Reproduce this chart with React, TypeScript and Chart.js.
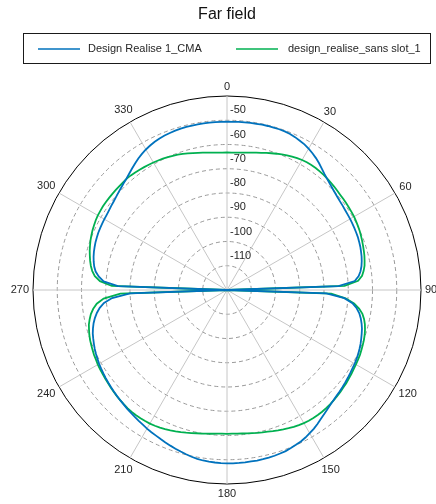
import React, { useEffect, useRef } from 'react';
import { Chart, registerables } from 'chart.js';

Chart.register(...registerables);

const FONT = '"Liberation Sans", Arial, Helvetica, sans-serif';

// Angular sampling grid (degrees, clockwise from top)
const angles: number[] = Array.from({ length: 180 }, (_, i) => i * 2);

const angleTickDegrees = [0, 30, 60, 90, 120, 150, 180, 210, 240, 270, 300, 330];
const angleTickLabels = ['0', '30', '60', '90', '120', '150', '180', '210', '240', '270', '300', '330'];

const radialTickValues = [-50, -60, -70, -80, -90, -100, -110];
const radialTickLabels = ['-50', '-60', '-70', '-80', '-90', '-100', '-110'];

const seriesNames = ['Design Realise 1_CMA', 'design_realise_sans slot_1'];
const seriesColors = ['#0072BD', '#00B050'];

const designRealiseCMA = [
  -50.6, -50.6, -50.5, -50.5, -50.4, -50.4, -50.3, -50.3, -50.3, -50.3,
  -50.4, -50.6, -51.0, -51.5, -52.0, -52.7, -53.5, -54.4, -55.4, -56.5,
  -57.5, -58.3, -59.0, -59.6, -60.1, -60.5, -60.8, -61.0, -61.2, -61.3,
  -61.4, -61.5, -61.6, -61.7, -61.8, -62.0, -62.2, -62.5, -62.8, -63.2,
  -63.7, -64.4, -65.4, -67.2, -74.0, -120, -79.0, -71.5, -68.0, -66.0,
  -64.6, -63.6, -62.8, -62.1, -61.6, -61.1, -60.6, -60.2, -59.8, -59.5,
  -59.2, -59.0, -58.7, -58.4, -58.1, -57.8, -57.5, -57.2, -56.8, -56.3,
  -55.7, -55.0, -54.2, -53.3, -52.5, -51.8, -51.1, -50.5, -50.1, -49.7,
  -49.3, -49.1, -48.9, -48.8, -48.7, -48.6, -48.6, -48.5, -48.5, -48.5,
  -48.5, -48.6, -48.7, -48.8, -49.0, -49.3, -49.7, -50.2, -50.7, -51.2,
  -51.7, -52.2, -52.7, -53.2, -53.6, -54.0, -54.5, -54.9, -55.3, -55.7,
  -56.0, -56.4, -56.7, -57.0, -57.3, -57.6, -57.9, -58.2, -58.5, -58.8,
  -59.1, -59.5, -59.9, -60.3, -60.8, -61.3, -61.8, -62.5, -63.3, -64.3,
  -65.5, -67.0, -69.0, -72.5, -80.0, -120, -75.0, -69.0, -66.8, -65.3,
  -64.4, -63.8, -63.3, -62.9, -62.6, -62.3, -62.1, -61.9, -61.8, -61.7,
  -61.6, -61.5, -61.3, -61.0, -60.7, -60.3, -59.8, -59.3, -58.7, -58.1,
  -57.3, -56.4, -55.5, -54.6, -53.8, -53.1, -52.5, -52.0, -51.6, -51.3,
  -51.1, -50.9, -50.8, -50.7, -50.7, -50.6, -50.6, -50.6, -50.6, -50.6,
];

const designRealiseSansSlot = [
  -63.3, -63.3, -63.2, -63.0, -62.8, -62.5, -62.1, -61.7, -61.2, -60.7,
  -60.2, -59.7, -59.2, -58.8, -58.4, -58.1, -57.9, -57.8, -57.8, -57.9,
  -58.0, -58.2, -58.4, -58.6, -58.8, -59.0, -59.1, -59.2, -59.3, -59.4,
  -59.5, -59.7, -59.9, -60.1, -60.4, -60.7, -61.0, -61.3, -61.6, -62.0,
  -62.4, -63.1, -64.0, -65.8, -71.5, -120, -77.0, -71.0, -67.3, -65.0,
  -63.3, -62.2, -61.4, -60.8, -60.3, -59.9, -59.6, -59.3, -59.0, -58.8,
  -58.6, -58.4, -58.1, -57.9, -57.6, -57.4, -57.1, -56.9, -56.7, -56.5,
  -56.4, -56.3, -56.3, -56.3, -56.4, -56.6, -56.9, -57.2, -57.6, -58.0,
  -58.4, -58.8, -59.2, -59.5, -59.8, -60.1, -60.3, -60.5, -60.6, -60.7,
  -60.7, -60.7, -60.6, -60.4, -60.2, -59.9, -59.6, -59.2, -58.8, -58.4,
  -58.0, -57.6, -57.2, -56.9, -56.6, -56.4, -56.3, -56.2, -56.2, -56.2,
  -56.3, -56.5, -56.7, -56.9, -57.2, -57.4, -57.7, -57.9, -58.1, -58.3,
  -58.5, -58.8, -59.0, -59.3, -59.6, -59.9, -60.3, -60.8, -61.3, -62.1,
  -63.0, -64.3, -66.0, -69.0, -76.0, -120, -72.5, -67.5, -65.2, -63.9,
  -63.0, -62.3, -61.7, -61.1, -60.6, -60.1, -59.7, -59.3, -59.0, -58.7,
  -58.5, -58.4, -58.3, -58.3, -58.3, -58.3, -58.3, -58.3, -58.3, -58.2,
  -58.3, -58.5, -58.7, -58.9, -59.1, -59.3, -59.5, -59.7, -60.0, -60.3,
  -60.6, -61.0, -61.4, -61.8, -62.2, -62.5, -62.8, -63.0, -63.2, -63.3,
];

const R_MIN = -120;
const R_MAX = -40;

const polarLabelsPlugin = {
  id: 'polarLabels',
  afterDraw(chart: any) {
    const scale = chart.scales.r;
    const ctx: CanvasRenderingContext2D = chart.ctx;
    ctx.save();
    ctx.fillStyle = '#262626';
    ctx.font = `11px ${FONT}`;
    ctx.textAlign = 'left';
    ctx.textBaseline = 'middle';
    radialTickValues.forEach((v, i) => {
      const d = scale.getDistanceFromCenterForValue(v);
      ctx.fillText(radialTickLabels[i], scale.xCenter + 3, scale.yCenter - d - 10);
    });
    ctx.textAlign = 'center';
    angleTickDegrees.forEach((deg, i) => {
      const idx = angles.indexOf(deg);
      const text = angleTickLabels[i];
      const w = ctx.measureText(text).width;
      const h = 11;
      const a = (deg * Math.PI) / 180;
      const half = Math.abs(Math.sin(a)) * w / 2 + Math.abs(Math.cos(a)) * h / 2;
      const p = scale.getPointPosition(idx, scale.drawingArea + 4 + half);
      ctx.fillText(text, p.x, p.y);
    });
    ctx.restore();
  },
};

const legendPlugin = {
  id: 'boxLegend',
  afterDraw(chart: any) {
    const ctx: CanvasRenderingContext2D = chart.ctx;
    ctx.save();
    ctx.strokeStyle = '#1a1a1a';
    ctx.lineWidth = 1;
    ctx.strokeRect(23.5, 33.5, 407, 30);
    const lineX = [38, 236];
    const textX = [88, 288];
    const y = 49;
    ctx.font = `11px ${FONT}`;
    ctx.textAlign = 'left';
    ctx.textBaseline = 'middle';
    chart.data.datasets.forEach((ds: any, i: number) => {
      ctx.strokeStyle = ds.borderColor;
      ctx.lineWidth = 1.6;
      ctx.beginPath();
      ctx.moveTo(lineX[i], y);
      ctx.lineTo(lineX[i] + 42, y);
      ctx.stroke();
      ctx.fillStyle = '#262626';
      ctx.fillText(ds.label, textX[i], y);
    });
    ctx.restore();
  },
};

export default function App() {
  const ref = useRef<HTMLCanvasElement | null>(null);

  useEffect(() => {
    if (!ref.current) return;
    const isMajor = (idx: number) => angleTickDegrees.includes(angles[idx]);
    const chart = new Chart(ref.current, {
      type: 'radar',
      data: {
        labels: angles.map((a) => String(a)),
        datasets: [
          {
            label: seriesNames[0],
            data: designRealiseCMA,
            borderColor: seriesColors[0],
            backgroundColor: seriesColors[0],
            borderWidth: 1.8,
            pointRadius: 0,
            fill: false,
            tension: 0,
          },
          {
            label: seriesNames[1],
            data: designRealiseSansSlot,
            borderColor: seriesColors[1],
            backgroundColor: seriesColors[1],
            borderWidth: 1.8,
            pointRadius: 0,
            fill: false,
            tension: 0,
          },
        ],
      },
      options: {
        responsive: false,
        animation: false,
        devicePixelRatio: 1,
        events: [],
        layout: { padding: { left: 33, right: 15, top: 0, bottom: 20 } },
        plugins: {
          legend: { display: false },
          tooltip: { enabled: false },
          title: {
            display: true,
            text: 'Far field',
            color: '#111',
            font: { family: FONT, size: 16, weight: 'normal', lineHeight: 1.2 },
            padding: { top: 5, bottom: 71.8 },
          },
        },
        scales: {
          r: {
            min: R_MIN,
            max: R_MAX,
            beginAtZero: false,
            startAngle: 0,
            ticks: { display: false, stepSize: 10 },
            pointLabels: { display: false },
            grid: {
              circular: true,
              color: (c: any) => (c.tick && c.tick.value === R_MAX ? '#000000' : '#9a9a9a'),
              lineWidth: 1,
            },
            border: {
              dash: (c: any) => (c.tick && c.tick.value === R_MAX ? [] : [4, 3]),
            },
            angleLines: {
              display: true,
              color: (c: any) => (isMajor(c.index) ? '#c6c6c6' : 'rgba(0,0,0,0)'),
              lineWidth: (c: any) => (isMajor(c.index) ? 1 : 0),
            },
          },
        },
      } as any,
      plugins: [polarLabelsPlugin, legendPlugin],
    });
    return () => chart.destroy();
  }, []);

  return (
    <div style={{ position: 'absolute', left: 0, top: 0, width: 436, height: 504, background: '#fff' }}>
      <canvas ref={ref} width={436} height={504} style={{ display: 'block', width: 436, height: 504 }} />
    </div>
  );
}
